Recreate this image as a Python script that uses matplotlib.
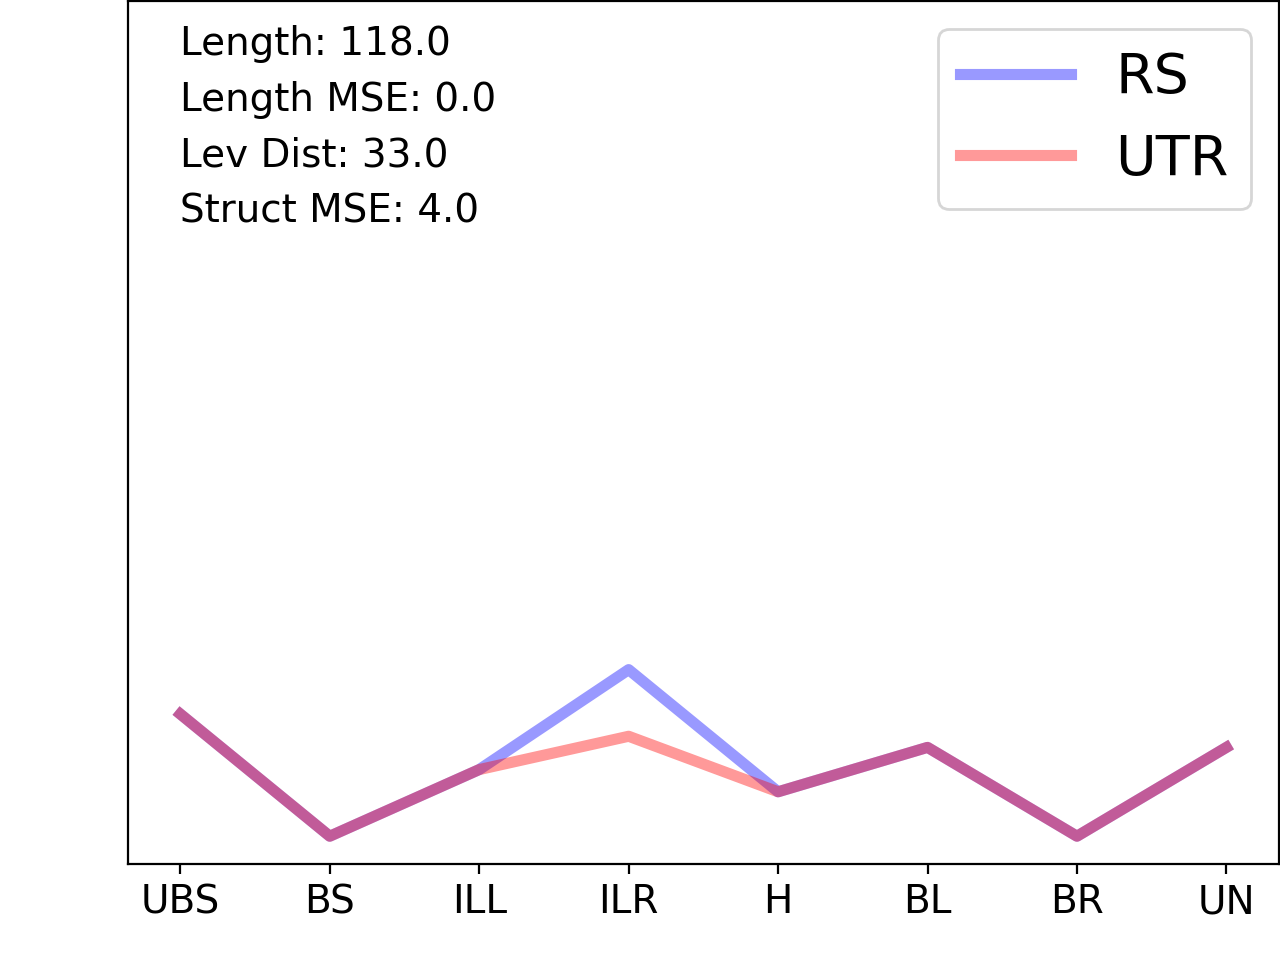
import matplotlib
matplotlib.use("Agg")
import matplotlib.pyplot as plt
import numpy as np

categories = ["UBS", "BS", "ILL", "ILR", "H", "BL", "BR", "UN"]
rs_counts = [13, 2, 8, 17, 6, 10, 2, 10]
utr_counts = [13, 2, 8, 11, 6, 10, 2, 10]

stats_lines = ["Length: 118.0", "Length MSE: 0.0", "Lev Dist: 33.0", "Struct MSE: 4.0"]

fig, ax = plt.subplots(figsize=(6.4, 4.8), dpi=200)
fig.subplots_adjust(left=0.1, right=0.999, bottom=0.1, top=0.999)

x = np.arange(len(categories))
ax.plot(x, rs_counts, color="blue", alpha=0.4, lw=4, label="RS")
ax.plot(x, utr_counts, color="red", alpha=0.4, lw=4, label="UTR")

ax.set_xticks(x)
ax.set_xticklabels(categories, fontsize=14)
ax.set_yticks([])
ax.set_ylim(-0.5, 77.2)

# summary stats in the top-left corner
ax.text(0.045, 0.972, "\n".join(stats_lines), transform=ax.transAxes,
        va="top", ha="left", fontsize=14, linespacing=1.59)

ax.legend(loc="upper right", fontsize=20)

plt.savefig("out.png", dpi=200)
